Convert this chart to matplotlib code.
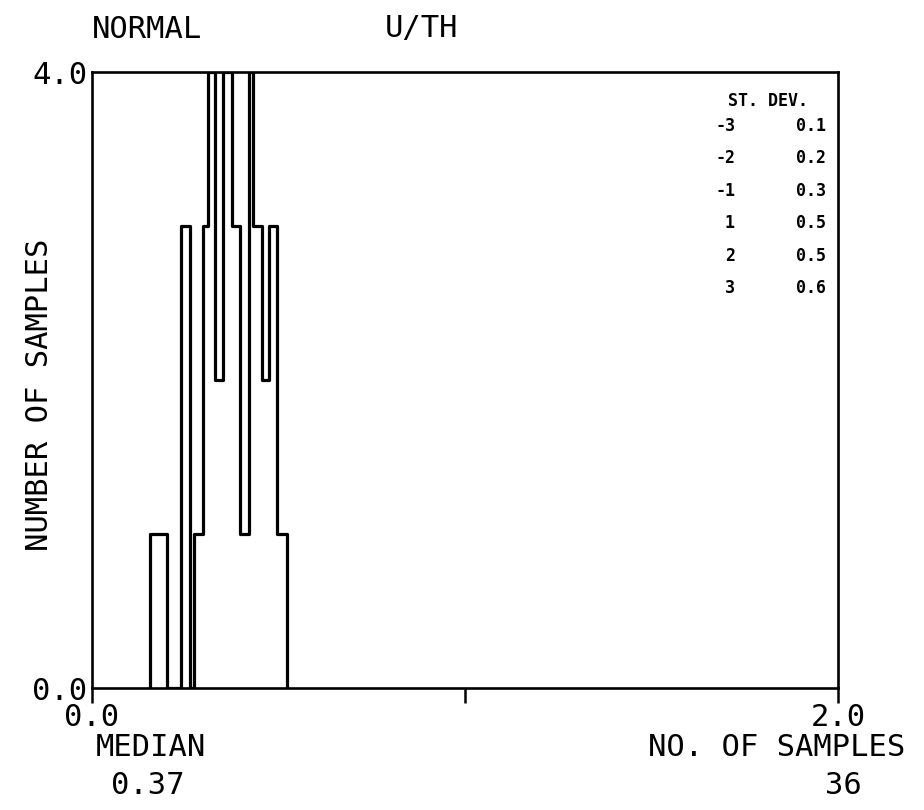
import matplotlib
matplotlib.use("Agg")
import matplotlib.pyplot as plt

# Histogram of U/TH values (variable-width bins, step outline)
bin_edges = [0.157, 0.202, 0.240, 0.264, 0.274, 0.299, 0.312, 0.331, 0.352,
             0.376, 0.398, 0.422, 0.432, 0.457, 0.475, 0.497, 0.523]
counts = [1, 0, 3, 0, 1, 3, 4, 2, 4, 3, 1, 4, 3, 2, 3, 1]

# Standard-deviation table
sd_levels = ["-3", "-2", "-1", "1", "2", "3"]
sd_values = ["0.1", "0.2", "0.3", "0.5", "0.5", "0.6"]

x_ticks = [0.0, 1.0, 2.0]
x_tick_labels = ["0.0", "", "2.0"]
y_ticks = [0.0, 4.0]
y_tick_labels = ["0.0", "4.0"]

median_text = "0.37"
n_samples_text = "36"

FONT = ["DejaVu Sans Mono"]
BIG = 22
SMALL = 12

fig = plt.figure(figsize=(9.24, 8.1), dpi=100)
ax = fig.add_axes([91.5 / 924, 1 - 688 / 810, (838 - 91.5) / 924, (688 - 72) / 810])

ax.stairs(counts, bin_edges, baseline=0, color="black", linewidth=2.3,
          joinstyle="round", capstyle="round")

ax.set_xlim(0, 2)
ax.set_ylim(0, 4)
for s in ax.spines.values():
    s.set_linewidth(1.9)
    s.set_color("black")

ax.set_xticks(x_ticks, labels=x_tick_labels)
ax.set_yticks(y_ticks, labels=y_tick_labels)
ax.tick_params(axis="x", direction="out", length=11, width=1.8, pad=0,
               labelsize=BIG)
ax.tick_params(axis="y", length=0, pad=3, labelsize=BIG)
for lab in ax.get_xticklabels() + ax.get_yticklabels():
    lab.set_family(FONT)

# Titles above the plot
fig.text(92 / 924, 1 - 29 / 810, "NORMAL", family=FONT, fontsize=BIG,
         ha="left", va="center")
fig.text(385 / 924, 1 - 29 / 810, "U/TH", family=FONT, fontsize=BIG,
         ha="left", va="center")

# Axis title
fig.text(40 / 924, 1 - 395 / 810, "NUMBER OF SAMPLES", family=FONT,
         fontsize=BIG, rotation=90, ha="center", va="center")

# Summary text below the plot
fig.text(151 / 924, 1 - 748 / 810, "MEDIAN", family=FONT, fontsize=BIG,
         ha="center", va="center")
fig.text(148 / 924, 1 - 786 / 810, median_text, family=FONT, fontsize=BIG,
         ha="center", va="center")
fig.text(905 / 924, 1 - 748 / 810, "NO. OF SAMPLES", family=FONT,
         fontsize=BIG, ha="right", va="center")
fig.text(843 / 924, 1 - 786 / 810, n_samples_text, family=FONT, fontsize=BIG,
         ha="center", va="center")

# Standard deviation table in the upper right
fig.text(768 / 924, 1 - 101 / 810, "ST. DEV.", family=FONT, fontsize=SMALL,
         fontweight="bold", ha="center", va="center")
row_y0 = 126
row_dy = 32.4
for i, (lvl, val) in enumerate(zip(sd_levels, sd_values)):
    y = 1 - (row_y0 + i * row_dy) / 810
    fig.text(735 / 924, y, lvl, family=FONT, fontsize=SMALL,
             fontweight="bold", ha="right", va="center")
    fig.text(826 / 924, y, val, family=FONT, fontsize=SMALL,
             fontweight="bold", ha="right", va="center")

fig.savefig("out.png", dpi=100)
